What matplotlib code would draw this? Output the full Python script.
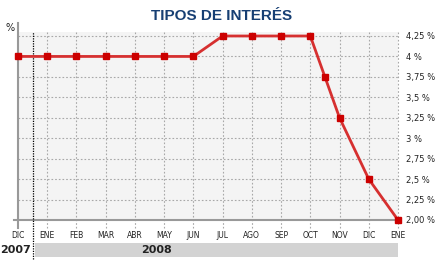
import matplotlib
matplotlib.use("Agg")
import matplotlib.pyplot as plt
import matplotlib.transforms as mtransforms
from matplotlib.patches import Rectangle

# datos
months = ["DIC", "ENE", "FEB", "MAR", "ABR", "MAY", "JUN",
          "JUL", "AGO", "SEP", "OCT", "NOV", "DIC", "ENE"]
pos = [0, 1, 2, 3, 4, 5, 6, 7, 8, 9, 10, 10.5, 11, 12, 13]
rate = [4, 4, 4, 4, 4, 4, 4, 4.25, 4.25, 4.25, 4.25, 3.75, 3.25, 2.5, 2.0]
yticks = [2.0, 2.25, 2.5, 2.75, 3.0, 3.25, 3.5, 3.75, 4.0, 4.25]
ylabels = ["2,00 %", "2,25 %", "2,5 %", "2,75 %", "3 %",
           "3,25 %", "3,5 %", "3,75 %", "4 %", "4,25 %"]
years = ["2007", "2008"]

W, H = 440, 270
fig = plt.figure(figsize=(4.4, 2.7), dpi=100)
fig.patch.set_facecolor("white")

# plot area in pixels
left, right, top, bottom = 18, 398, 32, 220
ax = fig.add_axes([left / W, 1 - bottom / H, (right - left) / W, (bottom - top) / H])
ax.set_facecolor("#f4f4f4")

ax.set_xlim(0, 13)
ax.set_ylim(2.0, 4.25 + 4 / 81.8)

for s in ax.spines.values():
    s.set_visible(False)

# grid
for y in yticks:
    ax.axhline(y, color="#a8a8a8", lw=0.8, ls=(0, (1.5, 1.8)), zorder=1)
for i in range(1, len(months)):
    ax.axvline(i, ymin=-0.045, ymax=1, color="#a8a8a8", lw=0.8,
               ls=(0, (1.5, 1.8)), clip_on=False, zorder=1)

# ejes
ax.axvline(0, ymin=-0.045, ymax=1.05, color="#999999", lw=1.5, clip_on=False, zorder=2)
ax.axhline(2.0, xmin=-0.01, xmax=1, color="#999999", lw=1.5, clip_on=False, zorder=2)

# separador de año
ax.axvline(0.5, ymin=-0.21, ymax=1, color="black", lw=0.9,
           ls=(0, (1, 1)), clip_on=False, zorder=2)

ax.plot(pos, rate, color="#d63030", lw=2.0, zorder=3, clip_on=False)
ax.plot(pos, rate, ls="none", marker="s", ms=5, color="#cc0000",
        zorder=4, clip_on=False)

ax.set_xticks(range(len(months)))
ax.set_xticklabels(months)
ax.tick_params(axis="x", length=0, pad=8, labelsize=5.5, colors="#222222")

ax.yaxis.tick_right()
ax.set_yticks(yticks)
ax.set_yticklabels(ylabels)
ax.tick_params(axis="y", length=0, pad=6, labelsize=6, colors="#222222")

fig.text(10 / W, 1 - 28 / H, "%", ha="center", va="center",
         fontsize=7, color="#222222")

# barra de años
trans = mtransforms.blended_transform_factory(ax.transData, ax.transAxes)
ax.add_patch(Rectangle((0.58, -0.197), 13 - 0.58, 0.075, transform=trans,
                       facecolor="#d3d3d3", edgecolor="none", clip_on=False))
ax.text(-0.1, -0.16, years[0], transform=trans, ha="center", va="center",
        fontsize=8, fontweight="bold", color="#222222",
        family=["Liberation Sans Narrow", "DejaVu Sans"])
ax.text(4.75, -0.16, years[1], transform=trans, ha="center", va="center",
        fontsize=8, fontweight="bold", color="#222222",
        family=["Liberation Sans Narrow", "DejaVu Sans"])

fig.text(222 / W, 1 - 16 / H, "TIPOS DE INTERÉS", ha="center", va="center",
         fontsize=11, fontweight="bold", color="#173f73", family="Liberation Sans")

fig.savefig("out.png", dpi=100)
